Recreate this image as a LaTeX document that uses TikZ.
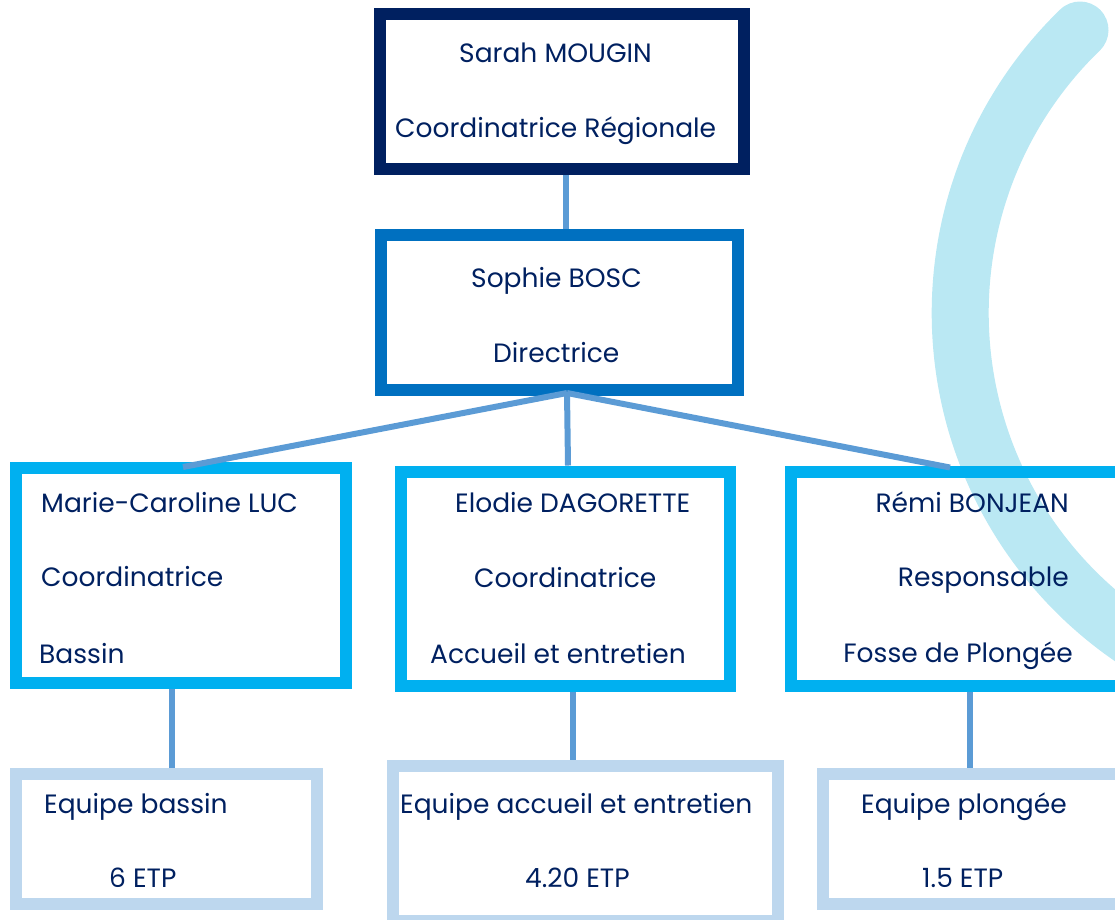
\documentclass[tikz,border=0pt]{standalone}
\usepackage{fontspec}
\setmainfont{Poppins}
\definecolor{navy}{HTML}{002060}
\definecolor{midblue}{HTML}{0070C0}
\definecolor{cyanb}{HTML}{00B0F0}
\definecolor{paleb}{HTML}{BDD7EE}
\definecolor{linkb}{HTML}{5B9BD5}
\definecolor{arcb}{HTML}{BAE8F3}
\begin{document}
\begin{tikzpicture}[x=1pt,y=1pt,
  box/.style={draw, rectangle, inner sep=0pt, line width=12pt},
  txt/.style={font=\fontsize{26.5}{31}\selectfont, text=navy, inner sep=0pt, anchor=base west},
  txtr/.style={txt, anchor=base east},
  link/.style={draw=linkb, line width=6pt}]
\useasboundingbox (0,0) rectangle (1115,-919);
\clip (0,0) rectangle (1115,-919);
% decorative arc
\draw[arcb, line width=57pt, line cap=round] (1080,-30) arc[start angle=134.1, end angle=250, radius=394];
% boxes
\node[box, draw=navy, minimum width=364pt, minimum height=155pt] (sarah) at (562,-91.5) {};
\node[box, draw=midblue, minimum width=357pt, minimum height=155.5pt] (sophie) at (559.5,-312.25) {};
\node[box, draw=cyanb, minimum width=330pt, minimum height=214.5pt] (marie) at (181,-575.25) {};
\node[box, draw=cyanb, minimum width=329pt, minimum height=214.5pt] (elodie) at (565.5,-578.75) {};
\node[box, draw=cyanb, minimum width=330pt, minimum height=214.5pt] (remi) at (956,-578.75) {};
\node[box, draw=paleb, minimum width=301pt, minimum height=130pt] (eqb) at (166.5,-839) {};
\node[box, draw=paleb, minimum width=385.5pt, minimum height=155pt] (eqa) at (585.25,-843.5) {};
\node[box, draw=paleb, minimum width=299pt, minimum height=130pt] (eqp) at (972.5,-839) {};
% connectors
\draw[link] ([xshift=4pt]sarah.south) -- ([xshift=4pt]sarah.south |- sophie.north);
\coordinate (jn) at ([xshift=7.5pt,yshift=3pt]sophie.south);
\draw[link] (jn) -- ([xshift=2pt,yshift=-5pt]marie.north);
\draw[link] (jn) -- ([xshift=2.5pt]elodie.north);
\draw[link] (jn) -- ([xshift=-6pt,yshift=-2pt]remi.north);
\draw[link] ([xshift=-9pt]marie.south) -- ([xshift=-9pt]marie.south |- eqb.north);
\draw[link] ([xshift=7pt]elodie.south) -- ([xshift=7pt]elodie.south |- eqa.north);
\draw[link] ([xshift=13.5pt]remi.south) -- ([xshift=13.5pt]remi.south |- eqp.north);
% texts
\node[txt] (t1a) at (459,-62) {Sarah MOUGIN};
\node[txt] (t1b) at (395,-137) {Coordinatrice Régionale};
\node[txt] (t2a) at (471,-287) {Sophie BOSC};
\node[txt] (t2b) at (493,-362) {Directrice};
\node[txt] (t3a) at (41,-512) {Marie-Caroline LUC};
\node[txt] (t3b) at (41,-586) {Coordinatrice};
\node[txt] (t3c) at (39,-663) {Bassin};
\node[txt] (t4a) at (455,-512) {Elodie DAGORETTE};
\node[txt] (t4b) at (474,-587) {Coordinatrice};
\node[txt] (t4c) at (430,-663) {Accueil et entretien};
\node[txtr] (t5a) at (1069,-512) {Rémi BONJEAN};
\node[txtr] (t5b) at (1069,-586) {Responsable};
\node[txtr] (t5c) at (1073,-662) {Fosse de Plongée};
\node[txt] (t6a) at (44,-813) {Equipe bassin};
\node[txt] (t6b) at (109,-887) {6 ETP};
\node[txt] (t7a) at (400,-813) {Equipe accueil et entretien};
\node[txt] (t7b) at (525,-887) {4.20 ETP};
\node[txt] (t8a) at (861,-813) {Equipe plongée};
\node[txt] (t8b) at (922,-887) {1.5 ETP};
\end{tikzpicture}
\end{document}
